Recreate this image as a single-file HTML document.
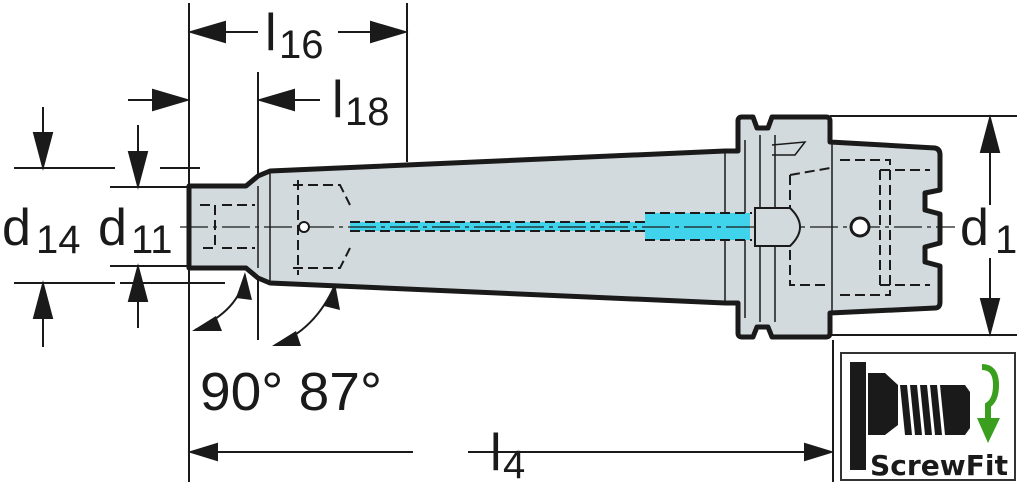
<!DOCTYPE html>
<html><head><meta charset="utf-8"><style>
html,body{margin:0;padding:0;background:#fff;}
svg{display:block;}
text{font-family:"Liberation Sans",sans-serif;fill:#1a1a1a;}
</style></head><body>
<svg width="1024" height="497" viewBox="0 0 1024 497" xmlns="http://www.w3.org/2000/svg">
<g stroke="#1a1a1a" fill="none" stroke-width="2">
<line x1="189" y1="3" x2="189" y2="482"/>
<line x1="407" y1="3" x2="407" y2="162"/>
<line x1="258" y1="72" x2="258" y2="340"/>
<line x1="833" y1="340" x2="833" y2="482"/>
<line x1="191" y1="32" x2="258" y2="32"/><path d="M191,32 L225,22 L225,42z" fill="#1a1a1a"/>
<line x1="338" y1="32" x2="405" y2="32"/><path d="M405,32 L371,22 L371,42z" fill="#1a1a1a"/>
<line x1="128" y1="100" x2="187" y2="100"/><path d="M187,100 L153,90 L153,110z" fill="#1a1a1a"/>
<line x1="260" y1="100" x2="320" y2="100"/><path d="M260,100 L294,90 L294,110z" fill="#1a1a1a"/>
<line x1="14" y1="168" x2="115" y2="168"/><line x1="160" y1="168" x2="200" y2="168"/>
<line x1="14" y1="283" x2="115" y2="283"/><line x1="160" y1="283" x2="200" y2="283"/>
<line x1="43" y1="107" x2="43" y2="150"/><path d="M43,167 L34,133 L52,133z" fill="#1a1a1a"/>
<line x1="43" y1="300" x2="43" y2="347"/><path d="M43,284 L34,318 L52,318z" fill="#1a1a1a"/>
<line x1="110" y1="187" x2="190" y2="187"/><line x1="110" y1="266" x2="190" y2="266"/>
<line x1="138" y1="125" x2="138" y2="170"/><path d="M138,186 L129,152 L147,152z" fill="#1a1a1a"/>
<line x1="138" y1="283" x2="138" y2="328"/><path d="M138,267 L129,301 L147,301z" fill="#1a1a1a"/>
<line x1="830" y1="116" x2="1017" y2="116"/><line x1="830" y1="335" x2="1017" y2="335"/>
<line x1="990" y1="118" x2="990" y2="205"/><path d="M990,118 L981,152 L999,152z" fill="#1a1a1a"/>
<line x1="990" y1="258" x2="990" y2="333"/><path d="M990,333 L981,299 L999,299z" fill="#1a1a1a"/>
<line x1="191" y1="452" x2="413" y2="452"/><path d="M191,452 L217,444 L217,460z" fill="#1a1a1a"/>
<line x1="468" y1="452" x2="831" y2="452"/><path d="M831,452 L805,444 L805,460z" fill="#1a1a1a"/>
</g>
<g stroke="#1a1a1a" stroke-width="5" fill="#d3dadd" stroke-linejoin="round">
<path d="M189,186 L246,186 L258,176 L270,171 L725,151 L738,151 L738,121 Q738,117 742,117 L753,117 L757,128 L768,128 L772,117 L826,117 Q830,117 830,121 L830,142 L935,148 Q940,149 940,155 L940,190 L925,193 L925,210 L940,214 L940,243 L925,247 L925,262 L940,266 L940,302 Q940,308 935,308 L830,313 L830,333 Q830,337 826,337 L772,337 L768,327 L757,327 L753,337 L742,337 Q738,337 738,333 L738,303 L725,303 L270,283 L258,278 L246,268 L189,268 Z"/>
</g>
<g stroke="#1a1a1a" stroke-width="1.5" fill="none">
<line x1="258" y1="186" x2="258" y2="268"/>
<line x1="270" y1="172" x2="270" y2="283"/>
<line x1="725" y1="152" x2="725" y2="302"/>
<line x1="745" y1="140" x2="745" y2="318"/>
<line x1="760" y1="135" x2="760" y2="322"/>
<line x1="775" y1="135" x2="775" y2="322"/>
<line x1="832" y1="144" x2="832" y2="311"/>
<path d="M772,145 L805,142 L795,155 L772,155"/>
</g>
<rect x="350" y="222" width="300" height="9" fill="#3fd3ec"/>
<rect x="645" y="213" width="105" height="27" fill="#3fd3ec"/>
<g stroke="#1a1a1a" stroke-width="2" fill="none" stroke-dasharray="10,5">
<path d="M200,205 L215,205 L215,248 L200,248"/>
<line x1="222" y1="205" x2="255" y2="205"/><line x1="222" y1="248" x2="255" y2="248"/>
<path d="M293,185 L340,185 L350,205 M293,268 L340,268 L350,248"/>
<line x1="298" y1="180" x2="298" y2="275"/>
<line x1="350" y1="222" x2="645" y2="222"/><line x1="350" y1="231" x2="645" y2="231"/>
<path d="M645,213 L752,213 M645,240 L752,240"/>
<path d="M790,175 L830,168 M790,175 L790,285 L830,285"/>
<path d="M840,160 L890,160 L890,295 L840,295"/>
<path d="M880,170 L930,170 M880,285 L930,285"/>
<line x1="880" y1="170" x2="880" y2="285"/>
</g>
<g stroke="#1a1a1a" stroke-width="1.3" fill="none" stroke-dasharray="28,5,4,5">
<line x1="180" y1="227" x2="955" y2="227"/>
</g>
<path d="M755,208 L790,208 Q810,227 790,246 L755,246 Z" fill="#d3dadd" stroke="#1a1a1a" stroke-width="2"/>
<circle cx="304" cy="227" r="5" fill="#fff" stroke="#1a1a1a" stroke-width="2"/>
<circle cx="860" cy="227" r="9" fill="#fff" stroke="#1a1a1a" stroke-width="3"/>
<g stroke="#1a1a1a" stroke-width="2" fill="none">
<path d="M195,330 Q240,310 245,275"/>
<path d="M275,345 Q315,330 335,285"/>
<line x1="120" y1="283" x2="225" y2="283"/>
</g>
<path d="M245,272 L252,300 L236,298z" fill="#1a1a1a"/>
<path d="M192,331 L216,316 L222,331z" fill="#1a1a1a"/>
<path d="M335,283 L340,310 L324,306z" fill="#1a1a1a"/>
<path d="M272,346 L296,331 L301,346z" fill="#1a1a1a"/>
<text x="265" y="50" font-size="52">l</text><text x="279" y="58" font-size="40">16</text>
<text x="332" y="117" font-size="52">l</text><text x="345" y="125" font-size="40">18</text>
<text x="2" y="245" font-size="52">d</text><text x="36" y="253" font-size="40">14</text>
<text x="98" y="245" font-size="52">d</text><text x="131" y="253" font-size="40">11</text>
<text x="960" y="245" font-size="52">d</text><text x="995" y="253" font-size="40">1</text>
<text x="200" y="410" font-size="54" textLength="182" lengthAdjust="spacingAndGlyphs">90° 87°</text>
<text x="490" y="470" font-size="52">l</text><text x="503" y="478" font-size="40">4</text>
<rect x="841" y="353" width="174" height="127" fill="#fff" stroke="#333" stroke-width="2"/>
<rect x="850" y="362" width="16" height="108" fill="#1a1a1a"/>
<path d="M868,373 L885,373 L898,385 L898,425 L885,435 L868,435 Z" fill="#1a1a1a"/>
<g fill="#1a1a1a"><path d="M900,385 L907,385 L912,435 L905,435z"/><path d="M910,385 L917,385 L922,435 L915,435z"/><path d="M920,385 L927,385 L932,435 L925,435z"/><path d="M930,385 L937,385 L942,435 L935,435z"/><path d="M940,385 L965,385 L970,392 L970,428 L965,435 L945,435z"/></g>
<path d="M982,367 Q996,367 996,385 Q996,400 988,405 L988,420" stroke="#3a9e1e" stroke-width="6" fill="none"/>
<path d="M977,418 L1000,418 L988,443 z" fill="#3a9e1e"/>
<text x="870" y="475" font-size="28" font-weight="bold" textLength="138" lengthAdjust="spacingAndGlyphs" style="font-family:'DejaVu Sans',sans-serif" fill="#1a1a1a">ScrewFit</text>
</svg>
</body></html>
